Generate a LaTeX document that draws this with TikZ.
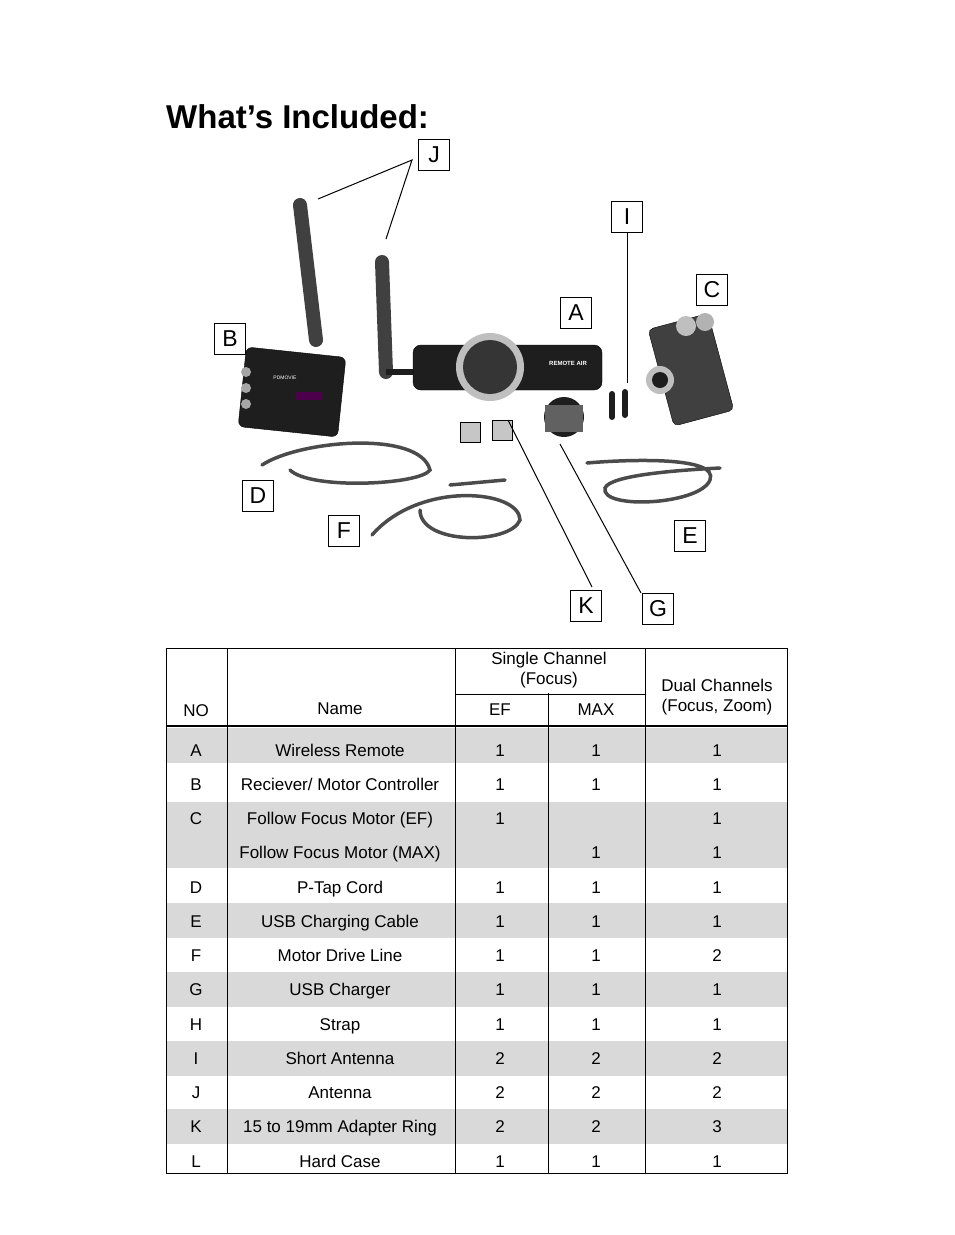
\documentclass[tikz,border=0pt]{standalone}
\usepackage{fontspec}
\setmainfont{Liberation Sans}
\usetikzlibrary{positioning}
\definecolor{rowgray}{HTML}{D9D9D9}
\definecolor{devblack}{HTML}{1E1E1E}
\tikzset{
  lblbox/.style={draw, line width=1.2pt, minimum size=31pt, inner sep=0pt, font=\fontsize{23}{25}\selectfont},
  lblline/.style={line width=1pt},
  cell/.style={font=\fontsize{17}{20}\selectfont, inner sep=0pt, anchor=base},
  cable/.style={line width=3.5pt, devblack!80, line cap=round},
  aerial/.style={line width=14pt, devblack!85, line cap=round}
}
\begin{document}
\begin{tikzpicture}[x=1pt, y=-1pt]
  \useasboundingbox (0,0) rectangle (954,1235);

  % title
  \node[anchor=base west, inner sep=0pt, font=\fontsize{33}{36}\selectfont\bfseries] (title) at (166,128) {What’s Included:};

  % --- products (simplified) ---
  % antennas
  \draw[aerial] (300,205) -- (316,340);
  \draw[aerial] (382,262) -- (386,372);
  \draw[devblack, line width=6pt] (386,372) -- (415,372);
  % receiver
  \draw[fill=devblack, rounded corners=6pt, rotate around={-6:(292,392)}] (242,352) rectangle (342,432);
  \node[font=\tiny, text=white] (brand) at (285,378) {PDMOVIE};
  \fill[violet!60!black] (295,392) rectangle (322,400);
  \foreach \yy in {372,388,404} \fill[gray!70] (246,\yy) circle (5pt);
  % wireless remote
  \draw[fill=devblack, rounded corners=8pt] (413,345) rectangle (602,390);
  \fill[gray!50] (490,367) circle (34pt);
  \fill[devblack!90] (490,367) circle (27pt);
  \node[font=\fontsize{6}{7}\selectfont\bfseries, text=white] (remtext) at (568,363) {REMOTE AIR};
  % motor
  \draw[fill=devblack!85, rounded corners=5pt, rotate around={15:(690,370)}] (660,320) rectangle (722,420);
  \fill[gray!60] (705,322) circle (9pt);
  \fill[gray!50] (660,380) circle (14pt);
  \fill[devblack] (660,380) circle (8pt);
  \fill[gray!50] (686,326) circle (10pt);
  % short antennas
  \draw[line width=6pt, devblack, line cap=round] (612,394) -- (612,417);
  \draw[line width=6pt, devblack, line cap=round] (625,392) -- (625,415);
  % usb charger
  \fill[devblack] (564,417) circle (20pt);
  \fill[devblack!70] (545,405) rectangle (583,432);
  % adapter rings
  \draw[fill=gray!45] (460,422) rectangle (480,442);
  \draw[fill=gray!45] (492,420) rectangle (512,440);
  % cables
  \draw[cable] (262,465) .. controls (300,440) and (420,430) .. (430,470)
               .. controls (420,485) and (310,490) .. (290,470);
  \draw[cable] (372,535) .. controls (420,480) and (520,490) .. (520,520)
               .. controls (510,545) and (420,545) .. (420,510);
  \draw[cable] (450,485) -- (505,480);
  \draw[cable] (587,463) .. controls (620,460) and (720,455) .. (710,480)
               .. controls (700,505) and (600,510) .. (605,488)
               .. controls (610,475) and (680,470) .. (720,468);

  % --- labels ---
  \node[lblbox] (J) at (434,155) {J};
  \node[lblbox] (I) at (627,217) {I};
  \node[lblbox] (C) at (712,290) {C};
  \node[lblbox] (A) at (576,313) {A};
  \node[lblbox] (B) at (230,339) {B};
  \node[lblbox] (D) at (258,496) {D};
  \node[lblbox] (F) at (344,531) {F};
  \node[lblbox] (E) at (690,536) {E};
  \node[lblbox] (K) at (586,606) {K};
  \node[lblbox] (G) at (658,609) {G};
  \coordinate (jtip) at (412,160);
  \coordinate (j1) at (318,199);
  \coordinate (j2) at (386,239);
  \coordinate (i1) at (627,383);
  \coordinate (k1) at (508,420);
  \coordinate (g1) at (560,444);
  \draw[lblline] (j1) -- (jtip) -- (j2);
  \draw[lblline] (I.south) -- (i1);
  \draw[lblline] (k1) -- (592,587);
  \draw[lblline] (g1) -- (641,593);

  % --- table ---
  \fill[rowgray] (166,728) rectangle (787,763);
  \fill[rowgray] (166,802) rectangle (787,868);
  \foreach \y in {903,972,1041,1109} \fill[rowgray] (166,\y) rectangle (787,\y+34.5);
  \draw[line width=0.8pt] (166,648) rectangle (787,1173);
  \foreach \x in {227,455,548,645} \draw[line width=0.8pt] (\x,648) -- (\x,1173);
  \draw[white, line width=2pt] (548,649) -- (548,693);
  \draw[line width=0.8pt] (455,694) -- (645,694);
  \draw[line width=1.6pt] (166,726) -- (787,726);
  \node[cell] (hno) at (196,716) {NO};
  \node[cell] (hname) at (340,714) {Name};
  \node[cell, align=center, anchor=center] (hsingle) at (549,670) {Single Channel\\(Focus)};
  \node[cell] (hef) at (500,715) {EF};
  \node[cell] (hmax) at (596,715) {MAX};
  \node[cell, align=center, anchor=center] (hdual) at (717,697) {Dual Channels\\(Focus, Zoom)};
  \foreach \no/\nm/\ef/\mx/\du [count=\i] in {
    A/Wireless Remote/1/1/1,
    B/Reciever\slash{} Motor Controller/1/1/1,
    C/Follow Focus Motor (EF)/1//1,
    /Follow Focus Motor (MAX)//1/1,
    D/P-Tap Cord/1/1/1,
    E/USB Charging Cable/1/1/1,
    F/Motor Drive Line/1/1/2,
    G/USB Charger/1/1/1,
    H/Strap/1/1/1,
    I/Short Antenna/2/2/2,
    J/Antenna/2/2/2,
    K/15 to 19mm Adapter Ring/2/2/3,
    L/Hard Case/1/1/1} {
    \pgfmathsetmacro{\yy}{756+(\i-1)*34.25}
    \node[cell] (no\i) at (196,\yy) {\no};
    \node[cell] (nm\i) at (340,\yy) {\nm};
    \node[cell] (ef\i) at (500,\yy) {\ef};
    \node[cell] (mx\i) at (596,\yy) {\mx};
    \node[cell] (du\i) at (717,\yy) {\du};
  }
\end{tikzpicture}
\end{document}
